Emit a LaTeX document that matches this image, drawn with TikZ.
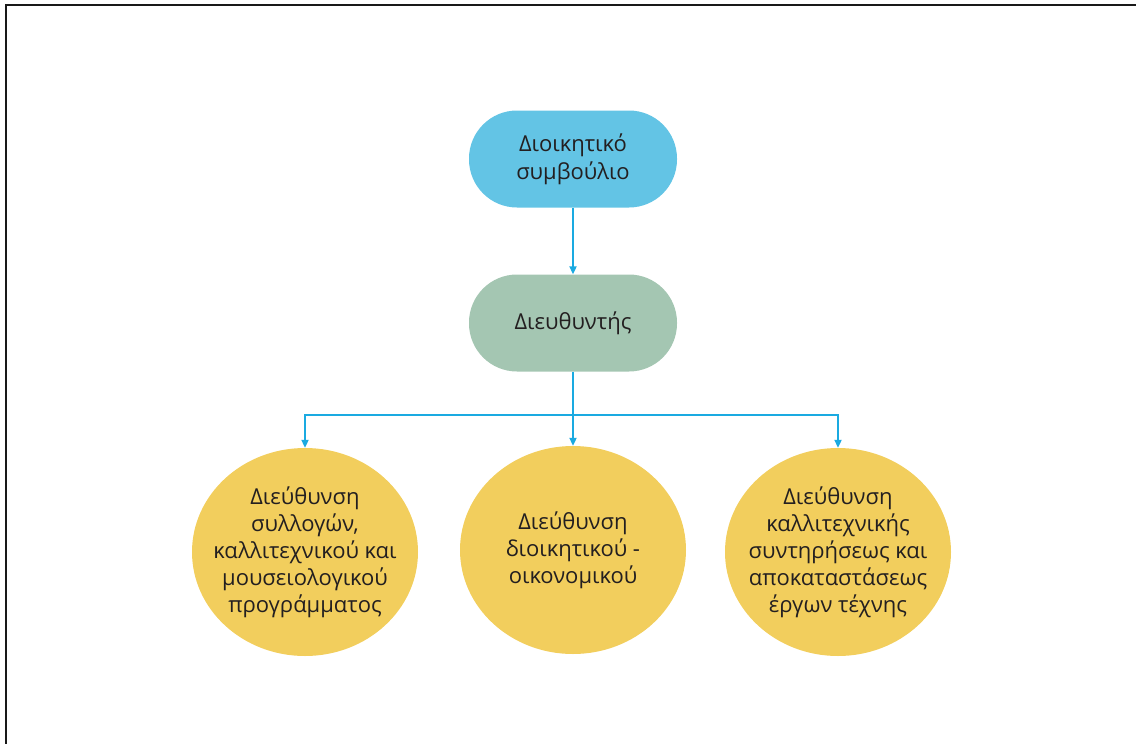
\documentclass[tikz,border=0pt]{standalone}
\usepackage{fontspec}
\setmainfont{Open Sans}
\usetikzlibrary{arrows.meta,shapes.geometric}
\definecolor{topblue}{HTML}{63C4E5}
\definecolor{dirgreen}{HTML}{A4C6B2}
\definecolor{deptyellow}{HTML}{F2CE5D}
\definecolor{linkblue}{HTML}{1AAAE1}
\definecolor{txt}{HTML}{231F20}
\tikzset{
  stadium/.style={rectangle, rounded corners=48pt, minimum width=208pt, minimum height=97pt, align=center, text=txt, font=\fontsize{22}{28}\selectfont, inner sep=0pt},
  dept/.style={ellipse, fill=deptyellow, minimum width=226pt, minimum height=208pt, inner sep=0pt},
  depttext/.style={align=center, text=txt, font=\fontsize{22}{27}\selectfont, inner sep=0pt},
  link/.style={draw=linkblue, line width=2.2pt, -{Triangle[length=8pt,width=7pt]}},
  plain link/.style={draw=linkblue, line width=2.2pt}
}
\begin{document}
\begin{tikzpicture}[x=1pt,y=-1pt]
\useasboundingbox (0,0) rectangle (1136,744);
\draw[line width=2.5pt, black!90] (6,744) -- (6,5) -- (1136,5);
\node[stadium, fill=topblue] (board) at (573,159) {Διοικητικό\\συμβούλιο};
\node[stadium, fill=dirgreen] (dir) at (573,323) {Διευθυντής};
\node[dept, label={[depttext]center:Διεύθυνση\\συλλογών,\\καλλιτεχνικού και\\μουσειολογικού\\προγράμματος}] (d1) at (305,552) {};
\node[dept, label={[depttext]center:Διεύθυνση\\διοικητικού -\\οικονομικού}] (d2) at (573,550) {};
\node[dept, label={[depttext]center:Διεύθυνση\\καλλιτεχνικής\\συντηρήσεως και\\αποκαταστάσεως\\έργων τέχνης}] (d3) at (838,552) {};
\coordinate (split) at (dir.south |- 0,415);
\draw[link] (board.south) -- (dir.north);
\draw[plain link] (dir.south) -- (split);
\draw[link] (split) -- (d2.north);
\draw[link] (split) -| (d1.north);
\draw[link] (split) -| (d3.north);
\end{tikzpicture}
\end{document}
